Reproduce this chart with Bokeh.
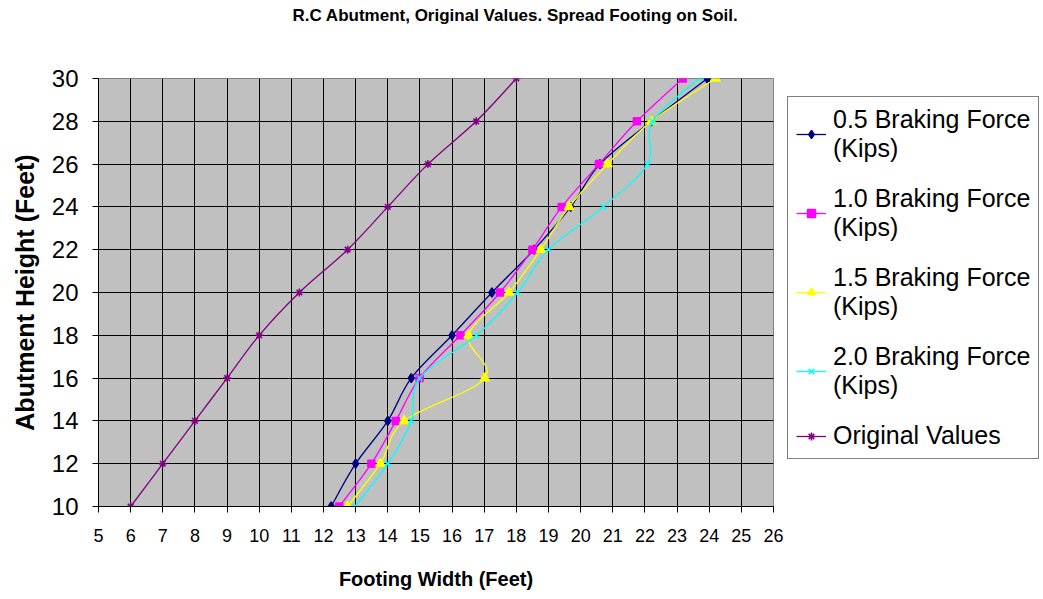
from bokeh.plotting import figure
from bokeh.layouts import row
from bokeh.models import Legend, LegendItem, Title, FixedTicker
from bokeh.embed import file_html
from bokeh.resources import INLINE

heights = [10, 12, 14, 16, 18, 20, 22, 24, 26, 28, 30]
bf05 = [12.24, 13.0, 14.0, 14.73, 16.0, 17.24, 18.55, 19.69, 20.6, 22.2, 23.94]
bf10 = [12.49, 13.49, 14.25, 14.99, 16.26, 17.49, 18.5, 19.41, 20.57, 21.75, 23.18]
bf15 = [12.75, 13.77, 14.51, 17.02, 16.51, 17.77, 18.76, 19.64, 20.84, 22.2, 24.2]
bf20 = [12.98, 14.0, 14.73, 14.99, 16.76, 18.04, 19.0, 20.7, 22.08, 22.24, 23.69]
original = [6.0, 7.0, 8.0, 9.0, 10.0, 11.25, 12.75, 14.0, 15.25, 16.75, 18.0]

x_ticks = list(range(5, 27))
y_ticks = list(range(10, 31, 2))

series = [
    ("0.5 Braking Force\n(Kips)", bf05, "#000080", "diamond", 9),
    ("1.0 Braking Force\n(Kips)", bf10, "#FF00FF", "square", 7),
    ("1.5 Braking Force\n(Kips)", bf15, "#FFFF00", "triangle", 9),
    ("2.0 Braking Force\n(Kips)", bf20, "#00FFFF", "x", 8),
    ("Original Values", original, "#800080", "asterisk", 8),
]

p = figure(width=786, height=599, output_backend="svg", toolbar_location=None,
           x_range=(5, 26), y_range=(10, 30),
           min_border_left=98, min_border_right=13, min_border_top=78, min_border_bottom=93)
p.border_fill_color = "white"
p.background_fill_color = "#C0C0C0"
p.outline_line_color = "#808080"
p.outline_line_width = 1

# real title (outermost) and a blank spacer title between it and the frame
p.title = Title(text="R.C Abutment, Original  Values.  Spread Footing on Soil.",
                text_font="Liberation Sans", text_font_size="17px", text_font_style="bold",
                text_color="black", align="left", offset=194, standoff=10,
                vertical_align="top")
p.add_layout(Title(text=" ", text_font="Liberation Sans", text_font_size="16px",
                   standoff=28), "above")

p.xaxis.ticker = FixedTicker(ticks=x_ticks)
p.yaxis.ticker = FixedTicker(ticks=y_ticks)
p.xgrid.ticker = FixedTicker(ticks=x_ticks)
p.ygrid.ticker = FixedTicker(ticks=y_ticks)
for g in (p.xgrid, p.ygrid):
    g.grid_line_color = "black"
    g.grid_line_width = 1
    g.grid_line_alpha = 1

for ax in (p.xaxis, p.yaxis):
    ax.axis_line_color = "black"
    ax.major_tick_line_color = "black"
    ax.minor_tick_line_color = None
    ax.major_tick_out = 6
    ax.major_tick_in = 0
    ax.major_label_text_color = "black"
    ax.axis_label_text_color = "black"
    ax.axis_label_text_font_style = "bold"

p.xaxis.axis_label = "Footing Width (Feet)"
p.xaxis.major_label_text_font = "Liberation Sans"
p.xaxis.major_label_text_font_size = "18px"
p.xaxis.major_label_standoff = 16
p.xaxis.axis_label_text_font = "Liberation Sans"
p.xaxis.axis_label_text_font_size = "20px"
p.xaxis.axis_label_standoff = 23

p.yaxis.axis_label = "Abutment Height (Feet)"
p.yaxis.major_label_text_font = "Liberation Sans"
p.yaxis.major_label_text_font_size = "24px"
p.yaxis.major_label_standoff = 14
p.yaxis.axis_label_text_font = "Liberation Sans"
p.yaxis.axis_label_text_font_size = "25px"
p.yaxis.axis_label_standoff = 10

# legend panel as a separate, axis-less figure (its data lie outside its view)
lg = figure(width=257, height=599, output_backend="svg", toolbar_location=None,
            x_range=(0, 1), y_range=(0, 1), x_axis_location=None, y_axis_location=None,
            min_border_left=0, min_border_right=0, min_border_top=0, min_border_bottom=0)
lg.outline_line_color = None
lg.xgrid.visible = False
lg.ygrid.visible = False
lg.background_fill_color = "white"
lg.border_fill_color = "white"

items = []
for label, xs, color, marker, size in series:
    n = len(xs)
    x0, y0, x1, y1, cx0, cy0, cx1, cy1 = [], [], [], [], [], [], [], []
    for i in range(n - 1):
        ip = max(i - 1, 0)
        inn = min(i + 2, n - 1)
        x0.append(xs[i]); y0.append(heights[i])
        x1.append(xs[i + 1]); y1.append(heights[i + 1])
        cx0.append(xs[i] + (xs[i + 1] - xs[ip]) / 6.0)
        cy0.append(heights[i] + (heights[i + 1] - heights[ip]) / 6.0)
        cx1.append(xs[i + 1] - (xs[inn] - xs[i]) / 6.0)
        cy1.append(heights[i + 1] - (heights[inn] - heights[i]) / 6.0)
    p.bezier(x0=x0, y0=y0, x1=x1, y1=y1, cx0=cx0, cy0=cy0, cx1=cx1, cy1=cy1,
             line_color=color, line_width=1.3)
    p.scatter(xs, heights, marker=marker, size=size, fill_color=color,
              line_color=color, line_width=1.5)
    kl = lg.line(xs, heights, line_color=color, line_width=1.3)
    ks = lg.scatter(xs, heights, marker=marker, size=size - 1, fill_color=color,
                    line_color=color, line_width=1.5)
    items.append(LegendItem(label=label, renderers=[kl, ks]))

legend = Legend(items=items, location=(1, 47), orientation="vertical")
legend.label_text_font = "Liberation Sans"
legend.label_text_font_size = "25px"
legend.label_text_color = "black"
legend.label_text_line_height = 1.16
legend.border_line_color = "black"
legend.border_line_width = 1
legend.background_fill_color = "white"
legend.background_fill_alpha = 1
legend.glyph_width = 30
legend.label_standoff = 7
legend.padding = 8
legend.spacing = 21
legend.margin = 0
lg.add_layout(legend, "center")

layout = row(p, lg, spacing=0)
open("out.html", "w").write(file_html(layout, INLINE))
